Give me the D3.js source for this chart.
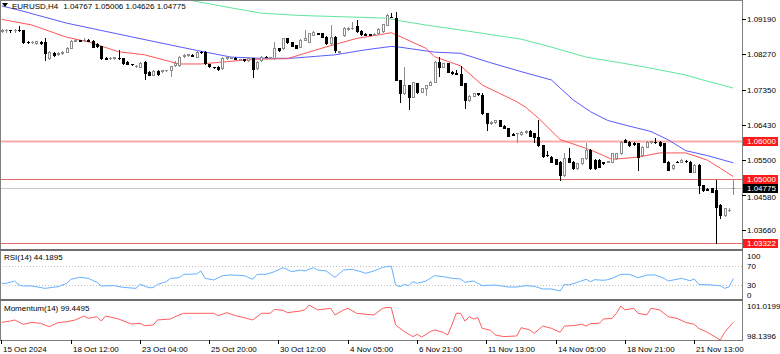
<!DOCTYPE html>
<html>
<head>
<meta charset="utf-8">
<script src="https://cdnjs.cloudflare.com/ajax/libs/d3/7.8.5/d3.min.js"></script>
<style>
  body { margin: 0; background: #ffffff; }
  svg { display: block; font-family: "Liberation Sans", Arial, sans-serif; }
</style>
</head>
<body>
<svg width="780" height="354"></svg>
<script>
//EURUSD H4 candles, one entry per bar (bar 0 = left edge)
const open = [
  1.0888,1.0890,1.0891,1.0890,1.0891,1.0890,1.0860,1.0859,1.0858,1.0859,
  1.0860,1.0818,1.0832,1.0828,1.0831,1.0834,1.0844,1.0862,1.0865,1.0864,
  1.0866,1.0862,1.0854,1.0849,1.0817,1.0817,1.0818,1.0818,1.0817,1.0808,
  1.0802,1.0797,1.0795,1.0808,1.0782,1.0773,1.0784,1.0784,1.0785,1.0786,
  1.0799,1.0799,1.0822,1.0826,1.0826,1.0821,1.0834,1.0834,1.0801,1.0794,
  1.0795,1.0791,1.0817,1.0818,1.0817,1.0814,1.0815,1.0812,1.0817,1.0791,
  1.0812,1.0821,1.0818,1.0817,1.0843,1.0843,1.0869,1.0859,1.0852,1.0847,
  1.0865,1.0860,1.0878,1.0882,1.0882,1.0873,1.0856,1.0873,1.0834,1.0878,
  1.0894,1.0895,1.0902,1.0888,1.0880,1.0880,1.0879,1.0882,1.0888,1.0904,
  1.0926,1.0922,1.0760,1.0725,1.0747,1.0716,1.0751,1.0729,1.0738,1.0747,
  1.0756,1.0808,1.0795,1.0804,1.0782,1.0778,1.0777,1.0751,1.0708,1.0719,
  1.0725,1.0721,1.0673,1.0647,1.0649,1.0655,1.0640,1.0633,1.0618,1.0620,
  1.0618,1.0623,1.0626,1.0620,1.0611,1.0590,1.0564,1.0559,1.0553,1.0546,
  1.0511,1.0555,1.0546,1.0529,1.0542,1.0555,1.0577,1.0550,1.0550,1.0544,
  1.0546,1.0546,1.0556,1.0568,1.0603,1.0598,1.0596,1.0595,1.0564,1.0585,
  1.0598,1.0598,1.0598,1.0595,1.0546,1.0529,1.0546,1.0546,1.0549,1.0546,
  1.0520,1.0537,1.0485,1.0474,1.0476,1.0472,1.0433,1.0406,1.0419,1.04767
];
const high = [
  1.0894,1.0894,1.0892,1.0894,1.0902,1.0892,1.0862,1.0862,1.0862,1.0861,
  1.0870,1.0836,1.0833,1.0833,1.0836,1.0846,1.0865,1.0867,1.0866,1.0870,
  1.0867,1.0864,1.0857,1.0850,1.0819,1.0819,1.0821,1.0839,1.0818,1.0810,
  1.0803,1.0799,1.0807,1.0810,1.0784,1.0785,1.0785,1.0786,1.0787,1.0798,
  1.0809,1.0824,1.0827,1.0828,1.0827,1.0839,1.0837,1.0836,1.0803,1.0795,
  1.0797,1.0821,1.0823,1.0821,1.0819,1.0816,1.0816,1.0819,1.0818,1.0809,
  1.0823,1.0823,1.0821,1.0860,1.0845,1.0871,1.0871,1.0860,1.0853,1.0867,
  1.0891,1.0883,1.0888,1.0884,1.0883,1.0875,1.0904,1.0875,1.0836,1.0898,
  1.0899,1.0913,1.0917,1.0890,1.0882,1.0881,1.0882,1.0895,1.0908,1.0933,
  1.0936,1.0939,1.0761,1.0795,1.0748,1.0755,1.0752,1.0739,1.0748,1.0757,
  1.0810,1.0821,1.0805,1.0805,1.0784,1.0786,1.0797,1.0752,1.0721,1.0726,
  1.0727,1.0727,1.0674,1.0653,1.0656,1.0656,1.0642,1.0634,1.0620,1.0622,
  1.0626,1.0628,1.0628,1.0621,1.0655,1.0591,1.0574,1.0561,1.0554,1.0548,
  1.0569,1.0582,1.0548,1.0543,1.0556,1.0595,1.0578,1.0552,1.0552,1.0545,
  1.0548,1.0569,1.0569,1.0600,1.0605,1.0600,1.0598,1.0596,1.0587,1.0600,
  1.0600,1.0608,1.0600,1.0596,1.0548,1.0539,1.0548,1.0552,1.0550,1.0548,
  1.0539,1.0539,1.0486,1.0476,1.0477,1.0498,1.0434,1.0425,1.0425,1.05006
];
const low = [
  1.0886,1.0887,1.0887,1.0887,1.0888,1.0858,1.0857,1.0856,1.0854,1.0854,
  1.0812,1.0814,1.0823,1.0826,1.0829,1.0833,1.0843,1.0861,1.0861,1.0862,
  1.0861,1.0846,1.0846,1.0815,1.0815,1.0815,1.0816,1.0815,1.0802,1.0801,
  1.0800,1.0794,1.0794,1.0762,1.0772,1.0772,1.0774,1.0782,1.0784,1.0771,
  1.0798,1.0798,1.0821,1.0823,1.0823,1.0820,1.0831,1.0802,1.0795,1.0791,
  1.0787,1.0790,1.0816,1.0817,1.0815,1.0813,1.0811,1.0811,1.0769,1.0790,
  1.0811,1.0819,1.0817,1.0816,1.0837,1.0842,1.0857,1.0849,1.0844,1.0846,
  1.0864,1.0859,1.0877,1.0880,1.0872,1.0855,1.0855,1.0834,1.0832,1.0875,
  1.0892,1.0894,1.0887,1.0879,1.0878,1.0877,1.0878,1.0881,1.0887,1.0903,
  1.0924,1.0759,1.0703,1.0723,1.0684,1.0715,1.0727,1.0728,1.0721,1.0746,
  1.0755,1.0770,1.0794,1.0781,1.0777,1.0776,1.0746,1.0687,1.0705,1.0718,
  1.0722,1.0672,1.0629,1.0645,1.0648,1.0639,1.0634,1.0613,1.0616,1.0598,
  1.0616,1.0622,1.0613,1.0598,1.0588,1.0559,1.0562,1.0545,1.0539,1.0498,
  1.0509,1.0545,1.0528,1.0528,1.0541,1.0554,1.0528,1.0528,1.0532,1.0541,
  1.0544,1.0545,1.0554,1.0567,1.0597,1.0588,1.0591,1.0524,1.0562,1.0584,
  1.0596,1.0596,1.0588,1.0545,1.0523,1.0528,1.0544,1.0545,1.0546,1.0519,
  1.0519,1.0464,1.0470,1.0472,1.0466,1.03322,1.0398,1.0403,1.0417,1.04626
];
const close = [
  1.0890,1.0891,1.0890,1.0891,1.0890,1.0860,1.0859,1.0860,1.0861,1.0857,
  1.0832,1.0833,1.0826,1.0831,1.0834,1.0843,1.0862,1.0865,1.0863,1.0866,
  1.0863,1.0847,1.0849,1.0817,1.0816,1.0818,1.0819,1.0817,1.0804,1.0802,
  1.0801,1.0797,1.0805,1.0779,1.0773,1.0784,1.0776,1.0785,1.0786,1.0797,
  1.0805,1.0821,1.0826,1.0827,1.0824,1.0834,1.0833,1.0804,1.0797,1.0793,
  1.0788,1.0818,1.0821,1.0819,1.0816,1.0815,1.0812,1.0817,1.0789,1.0807,
  1.0821,1.0820,1.0819,1.0843,1.0839,1.0869,1.0859,1.0850,1.0845,1.0865,
  1.0869,1.0882,1.0887,1.0881,1.0873,1.0856,1.0873,1.0839,1.0835,1.0895,
  1.0897,1.0896,1.0888,1.0880,1.0879,1.0879,1.0881,1.0894,1.0906,1.0930,
  1.0925,1.0760,1.0725,1.0747,1.0716,1.0754,1.0728,1.0738,1.0747,1.0756,
  1.0808,1.0795,1.0804,1.0782,1.0778,1.0777,1.0747,1.0708,1.0719,1.0725,
  1.0723,1.0673,1.0647,1.0651,1.0655,1.0640,1.0635,1.0614,1.0617,1.0621,
  1.0624,1.0626,1.0614,1.0611,1.0590,1.0561,1.0563,1.0546,1.0541,1.0511,
  1.0555,1.0546,1.0529,1.0542,1.0555,1.0577,1.0529,1.0529,1.0533,1.0543,
  1.0547,1.0568,1.0568,1.0598,1.0598,1.0590,1.0592,1.0559,1.0585,1.0598,
  1.0599,1.0597,1.0590,1.0546,1.0524,1.0537,1.0545,1.0550,1.0548,1.0520,
  1.0537,1.0485,1.0472,1.0473,1.0467,1.0428,1.0406,1.0424,1.0420,1.04775
];

//moving averages: [bar, price]
const maFast = [[0,1.0919],[7,1.0904],[15,1.0872],[20,1.0860],[27,1.0834],[33,1.0826],[39,1.0808],[41,1.0802],
  [46,1.0802],[52,1.0808],[58,1.0814],[66,1.0816],[75,1.0847],[82,1.0869],[87,1.0878],[90,1.0884],[93,1.0869],
  [98,1.0843],[100,1.0821],[106,1.0797],[111,1.0747],[115,1.0725],[119,1.0703],[121,1.0689],[124,1.0660],
  [129,1.0604],[136,1.0577],[141,1.0552],[147,1.0558],[152,1.0569],[158,1.0569],[163,1.0550],[166,1.0529],[169,1.0507]];
const maMid = [[0,1.0954],[4,1.0943],[15,1.0909],[30,1.0873],[44,1.0840],[53,1.0820],[60,1.0817],[67,1.0817],
  [77,1.0826],[84,1.0839],[90,1.0848],[92,1.0846],[100,1.0833],[106,1.0830],[113,1.0805],[120,1.0782],[127,1.0760],
  [129,1.0739],[132,1.0708],[136,1.0677],[140,1.0654],[144,1.0642],[150,1.0625],[154,1.0603],[158,1.0575],[163,1.0562],[169,1.0543]];
const maSlow = [[40,1.0977],[43,1.0970],[53,1.0949],[60,1.0935],[69,1.0929],[78,1.0926],[89,1.0922],[91,1.0917],
  [98,1.0904],[106,1.0891],[120,1.0867],[127,1.0846],[135,1.0820],[143,1.0805],[150,1.0791],[158,1.0773],[162,1.0760],[169,1.0739]];

//RSI(14): [bar, value]
const rsi = [[0,34.1],[1,34.1],[3,38.9],[4,30.6],[5,28.6],[7,28.6],[10,23.7],[13,27.2],[15,34.1],[16,42.4],[18,46.5],
  [20,44.4],[22,36.2],[23,28.6],[26,29.3],[28,25.8],[31,23.7],[32,32],[34,25.1],[35,25.1],[36,32],[38,37.5],[39,44.4],
  [41,45.8],[42,52.7],[45,53.4],[46,59.6],[47,44.4],[49,41],[51,50],[53,51.3],[56,50],[58,42.4],[59,52.7],[61,52.7],
  [63,58.2],[65,66.5],[67,58.2],[69,61.7],[70,59.6],[72,66.5],[73,61.7],[75,59.6],[76,52.7],[77,46.5],[79,61.7],
  [81,63.1],[83,58.2],[84,54.8],[86,59.6],[88,67.2],[89,68.6],[90,69.5],[91,30.6],[92,27.2],[93,32],[94,29.3],
  [95,37.5],[96,34.1],[98,38.9],[100,50],[102,47.9],[104,44.4],[106,43.1],[107,36.2],[109,38.9],[111,29.3],[114,30.6],
  [117,26.5],[119,26.5],[121,29.3],[123,27.9],[125,22.4],[127,22.4],[129,18.2],[130,32],[131,30.6],[133,36.2],
  [135,42.4],[136,37.5],[137,41.7],[139,40.3],[140,41.7],[141,44.4],[143,52.7],[145,52.7],[147,45.8],[149,51.3],
  [151,51.3],[153,44.4],[154,38.9],[157,44.4],[159,39.6],[160,43.1],[161,32],[164,30.6],[166,29.3],[167,23.7],
  [168,26.5],[169,44.19]];

//Momentum(14): [bar, value]
const momentum = [[0,99.44],[2,99.54],[3,99.62],[5,99.30],[7,99.44],[9,99.37],[11,99.12],[13,99.42],[15,99.49],
  [17,99.62],[19,99.91],[20,99.74],[22,99.86],[23,99.54],[24,99.91],[27,99.69],[30,99.32],[32,99.37],[33,99.20],
  [35,99.25],[36,99.62],[39,99.69],[40,99.86],[42,100.11],[46,100.11],[49,100.11],[50,99.94],[52,100.16],[54,99.94],
  [56,99.79],[58,99.62],[60,100.11],[62,100.11],[63,100.40],[65,100.33],[66,100.16],[69,100.28],[70,100.36],
  [71,100.72],[73,100.36],[76,100.48],[77,99.99],[79,100.36],[80,100.48],[82,100.11],[84,100.04],[86,99.99],
  [88,100.48],[89,100.55],[90,100.53],[91,99.25],[93,98.76],[95,98.39],[96,98.56],[97,98.36],[99,98.76],[100,98.88],
  [102,98.71],[103,98.51],[104,99.25],[105,100.11],[106,100.11],[107,99.54],[108,99.86],[109,99.69],[110,99.79],
  [111,99.00],[113,98.85],[114,98.51],[116,98.39],[119,98.44],[120,99.05],[122,98.88],[123,98.63],[125,99.17],
  [127,99.00],[129,98.71],[130,99.17],[132,99.20],[134,99.30],[135,99.17],[136,99.35],[138,99.37],[139,99.69],
  [141,99.74],[142,100.11],[143,100.65],[144,100.36],[146,100.48],[147,100.11],[149,99.99],[150,100.48],[152,100.36],
  [154,99.86],[156,99.74],[158,99.44],[160,99.30],[161,99.00],[163,98.71],[166,98.14],[167,98.71],[169,99.45]];

//axis ticks and levels
const priceTicks = [1.0919, 1.0827, 1.0735, 1.0643, 1.0550, 1.0458, 1.0366];
const levelPrices = [1.06000, 1.05000, 1.03322];
const bidPrice = 1.04775;
const rsiLevels = [70, 30];
const rsiTicks = [100, 70, 30, 0];
const momTicks = [101.0199, 98.1396];
const timeTickBars = [0, 16, 32, 48, 64, 80, 96, 112, 128, 144, 160];
const timeTickLabels = ["15 Oct 2024", "18 Oct 12:00", "23 Oct 04:00", "25 Oct 20:00", "30 Oct 12:00",
  "4 Nov 05:00", "6 Nov 21:00", "11 Nov 13:00", "14 Nov 05:00", "18 Nov 21:00", "21 Nov 13:00"];

//layout
const plotRight = 742;
const mainBottom = 248;

const x = d3.scaleLinear().domain([0, 169]).range([1.7, 733.3]);
const y = d3.scaleLinear().domain([1.03199, 1.09696]).range([mainBottom, 0]);
const yRsi = d3.scaleLinear().domain([0, 100]).range([299.8, 251.5]);
const yMom = d3.scaleLinear().domain([98.1396, 101.0199]).range([340, 301]);

const svg = d3.select("svg");
const fmt5 = d3.format(".5f");

const defs = svg.append("defs");
defs.append("clipPath").attr("id", "clipMain")
  .append("rect").attr("x", 1).attr("y", 1).attr("width", plotRight - 1).attr("height", mainBottom);
defs.append("clipPath").attr("id", "clipRsi")
  .append("rect").attr("x", 1).attr("y", 251).attr("width", plotRight - 1).attr("height", 48);
defs.append("clipPath").attr("id", "clipMom")
  .append("rect").attr("x", 1).attr("y", 301).attr("width", plotRight - 1).attr("height", 39);

const gMain = svg.append("g").attr("clip-path", "url(#clipMain)");

//horizontal levels
const levelColor = ["#ffaaaa", "#e86a6a", "#e86a6a"];
const levelWidth = [2, 1, 1];
levelPrices.forEach((p, i) => {
  gMain.append("line")
    .attr("x1", 0).attr("x2", plotRight)
    .attr("y1", Math.round(y(p)) + 0.5).attr("y2", Math.round(y(p)) + 0.5)
    .attr("stroke", levelColor[i]).attr("stroke-width", levelWidth[i]);
});
gMain.append("line")
  .attr("x1", 0).attr("x2", plotRight)
  .attr("y1", Math.round(y(bidPrice)) + 0.5).attr("y2", Math.round(y(bidPrice)) + 0.5)
  .attr("stroke", "#c8c8c8").attr("stroke-width", 1);

//moving averages
const maLine = d3.line().x(d => x(d[0])).y(d => y(d[1]));
[[maSlow, "#5fe69c"], [maMid, "#5a5aff"], [maFast, "#ff5555"]].forEach(([data, col]) => {
  gMain.append("path").datum(data)
    .attr("d", maLine).attr("fill", "none")
    .attr("stroke", col).attr("stroke-width", 1);
});

//candles
const candles = d3.range(open.length).map(i => ({ i, o: open[i], h: high[i], l: low[i], c: close[i] }));
const cg = gMain.selectAll(".candle").data(candles).enter().append("g")
  .attr("class", "candle").attr("shape-rendering", "crispEdges");

cg.each(function(d) {
  const g = d3.select(this);
  const cx = Math.round(x(d.i)) + 0.5;
  const up = d.c >= d.o;
  const wickCol = up ? "#8c8c8c" : "#000000";
  const yH = Math.round(y(d.h)), yL = Math.round(y(d.l));
  const yO = Math.round(y(d.o)), yC = Math.round(y(d.c));
  g.append("line").attr("x1", cx).attr("x2", cx)
    .attr("y1", yH).attr("y2", yL + 1).attr("stroke", wickCol);
  if (yO === yC) {
    g.append("line").attr("x1", cx - 1.5).attr("x2", cx + 1.5)
      .attr("y1", yO + 0.5).attr("y2", yO + 0.5).attr("stroke", wickCol);
  } else if (up) {
    g.append("rect").attr("x", cx - 1).attr("y", yC + 0.5)
      .attr("width", 2).attr("height", yO - yC)
      .attr("fill", "#ffffff").attr("stroke", "#8c8c8c");
  } else {
    g.append("rect").attr("x", cx - 1.5).attr("y", yO)
      .attr("width", 3).attr("height", yC - yO + 1)
      .attr("fill", "#000000");
  }
});

//RSI panel
const gRsi = svg.append("g").attr("clip-path", "url(#clipRsi)");
rsiLevels.forEach(v => {
  gRsi.append("line").attr("x1", 0).attr("x2", plotRight)
    .attr("y1", Math.round(yRsi(v)) + 0.5).attr("y2", Math.round(yRsi(v)) + 0.5)
    .attr("stroke", "#c0c0c0").attr("stroke-dasharray", "1,2");
});
gRsi.append("path").datum(rsi)
  .attr("d", d3.line().x(d => x(d[0])).y(d => yRsi(d[1])))
  .attr("fill", "none").attr("stroke", "#66b0ff").attr("stroke-width", 1);

//Momentum panel
const gMom = svg.append("g").attr("clip-path", "url(#clipMom)");
gMom.append("path").datum(momentum)
  .attr("d", d3.line().x(d => x(d[0])).y(d => yMom(d[1])))
  .attr("fill", "none").attr("stroke", "#ff5c5c").attr("stroke-width", 1);

//frame and separators
const frame = svg.append("g").attr("shape-rendering", "crispEdges");
frame.append("line").attr("x1", 0.5).attr("x2", 0.5).attr("y1", 0).attr("y2", 341).attr("stroke", "#808080");
frame.append("line").attr("x1", 0).attr("x2", plotRight).attr("y1", 0.5).attr("y2", 0.5).attr("stroke", "#808080");
frame.append("line").attr("x1", plotRight + 0.5).attr("x2", plotRight + 0.5).attr("y1", 0).attr("y2", 341).attr("stroke", "#808080");
frame.append("rect").attr("x", 0).attr("y", 249).attr("width", plotRight + 1).attr("height", 2).attr("fill", "#6e6e6e");
frame.append("rect").attr("x", 0).attr("y", 299).attr("width", plotRight + 1).attr("height", 2).attr("fill", "#6e6e6e");
frame.append("line").attr("x1", 0).attr("x2", plotRight + 1).attr("y1", 340.5).attr("y2", 340.5).attr("stroke", "#808080");

//price axis
const axisG = svg.append("g").attr("font-size", "8px").attr("fill", "#000");
priceTicks.forEach(p => {
  const yy = Math.round(y(p)) + 0.5;
  axisG.append("line").attr("x1", plotRight).attr("x2", plotRight + 4)
    .attr("y1", yy).attr("y2", yy).attr("stroke", "#000").attr("shape-rendering", "crispEdges");
  axisG.append("text").attr("x", plotRight + 5).attr("y", yy + (p === 1.0458 ? 1.5 : 0))
    .attr("dy", "0.35em").text(fmt5(p));
});

//level tags
const tagColor = ["#ff1a1a", "#ff1a1a", "#ff1a1a"];
const tags = levelPrices.map((p, i) => ({ p, col: tagColor[i] })).concat([{ p: bidPrice, col: "#000000" }]);
tags.forEach(t => {
  const yy = Math.round(y(t.p));
  axisG.append("rect").attr("x", plotRight + 1).attr("y", yy - 4)
    .attr("width", 35).attr("height", 9).attr("fill", t.col);
  axisG.append("text").attr("x", plotRight + 5).attr("y", yy + 0.5).attr("dy", "0.35em")
    .attr("fill", "#ffffff").text(fmt5(t.p));
});

//RSI axis
rsiTicks.forEach(v => {
  const yy = Math.min(Math.max(yRsi(v), 256), 295.5);
  axisG.append("text").attr("x", plotRight + 5).attr("y", yy).attr("dy", "0.35em").text(v);
});
//Momentum axis
momTicks.forEach(v => {
  const yy = Math.min(Math.max(yMom(v), 306.5), 336.5);
  axisG.append("text").attr("x", plotRight + 5).attr("y", yy).attr("dy", "0.35em").text(v.toFixed(4));
});

//time axis
timeTickBars.forEach((b, i) => {
  const xx = Math.round(x(b) - 0.3) + 0.5;
  axisG.append("line").attr("x1", xx).attr("x2", xx).attr("y1", 340).attr("y2", 344)
    .attr("stroke", "#000").attr("shape-rendering", "crispEdges");
  axisG.append("text").attr("x", xx + 1.5).attr("y", 349.5).attr("dy", "0.35em").text(timeTickLabels[i]);
});

//titles
const titleG = svg.append("g").attr("font-size", "8px").attr("fill", "#000");
titleG.append("path").attr("d", "M2,3 L8,3 L5,7 Z").attr("fill", "#000");
const symText = titleG.append("text").attr("x", 12).attr("y", 6).attr("dy", "0.35em").text("EURUSD,H4");
const symW = symText.node().getComputedTextLength();
titleG.append("text").attr("x", 12 + symW + 5).attr("y", 6).attr("dy", "0.35em")
  .text([open[169], high[169], low[169], close[169]].map(fmt5).join(" "));
titleG.append("text").attr("x", 4).attr("y", 257.5).attr("dy", "0.35em").text("RSI(14) 44.1895");
titleG.append("text").attr("x", 4).attr("y", 308.5).attr("dy", "0.35em").text("Momentum(14) 99.4495");
</script>
</body>
</html>
